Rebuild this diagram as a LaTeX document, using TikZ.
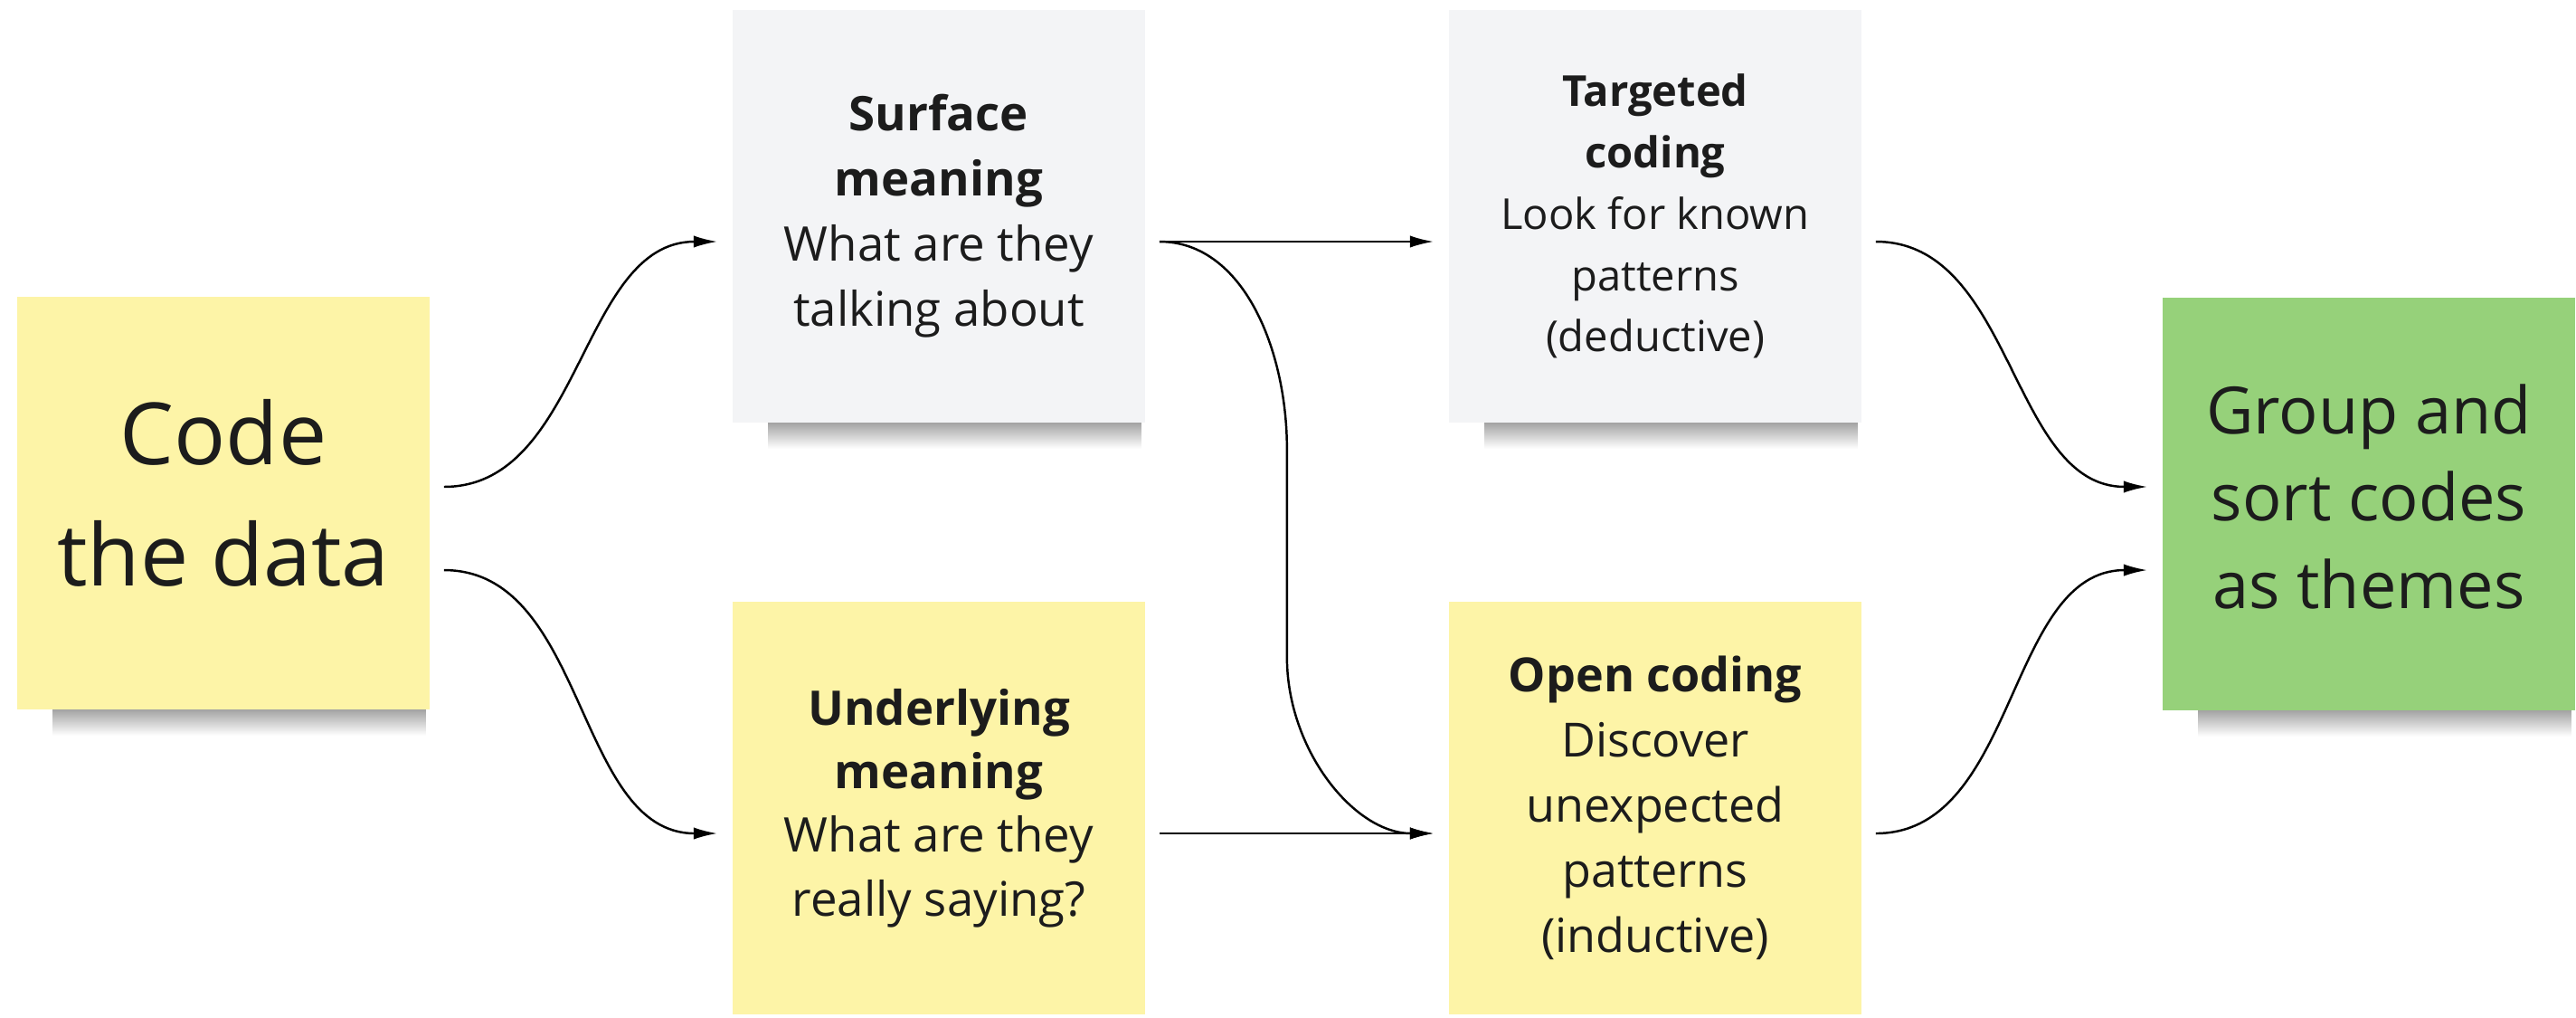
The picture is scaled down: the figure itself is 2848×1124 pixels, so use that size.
\documentclass[tikz,border=0pt]{standalone}
\usepackage{fontspec}
\setmainfont{Open Sans}
\usetikzlibrary{arrows.meta}

\definecolor{paleyellow}{HTML}{FDF4A7}
\definecolor{palegray}{HTML}{F3F4F6}
\definecolor{leafgreen}{HTML}{96D17A}
\definecolor{ink}{HTML}{1C1C1C}

\tikzstyle{sticky}=[minimum size=4.56cm, inner sep=0pt, align=center, text=ink]
\tikzstyle{flow}=[-{Latex[length=7.5pt,width=3.8pt]}, line width=0.7pt, shorten <=0.15cm, shorten >=0.16cm]

\begin{document}
\begin{tikzpicture}[x=0.01cm, y=-0.01cm]
  \useasboundingbox[fill=white] (0,0) rectangle (2848,1124);

  % sticky notes
  \node[sticky, fill=paleyellow, font=\fontsize{27}{38}\selectfont] (code) at (247,556) {Code\\the data\vphantom{g}};
  \node[sticky, fill=palegray, font=\fontsize{15}{20.5}\selectfont] (surf) at (1038,239)
    {\textbf{Surface}\\\textbf{meaning}\\What are they\\talking about};
  \node[sticky, fill=palegray, font=\fontsize{13.4}{19.3}\selectfont] (targ) at (1830,239)
    {\textbf{Targeted}\\\textbf{coding}\\Look for known\\patterns\\(deductive)};
  \node[sticky, fill=paleyellow, font=\fontsize{15}{20}\selectfont] (under) at (1038,893)
    {\textbf{Underlying}\\\textbf{meaning}\\What are they\\really saying?};
  \node[sticky, fill=paleyellow, font=\fontsize{14.8}{20.5}\selectfont] (open) at (1830,893)
    {\textbf{Open coding}\\Discover\\unexpected\\patterns\\(inductive)};
  \node[sticky, fill=leafgreen, font=\fontsize{20.5}{27.5}\selectfont] (group) at (2619,557) {Group and\\sort codes\\as themes\vphantom{g}};

  \foreach \n in {code, surf, targ, group} {%
    \shade[top color=black!35, bottom color=white] ([xshift=0.4cm]\n.south west) rectangle ([xshift=-0.05cm, yshift=-0.28cm]\n.south east);
  }

  % connectors
  \draw[flow] ([yshift=0.18cm]code.east) to[out=0, in=180] ([yshift=-0.28cm]surf.west);
  \draw[flow] ([yshift=-0.74cm]code.east) to[out=0, in=180] ([yshift=-0.28cm]under.west);
  \draw[flow] ([yshift=-0.28cm]surf.east) -- ([yshift=-0.28cm]targ.west);
  \draw[flow] ([yshift=-0.28cm]surf.east) to[out=0, in=90] ++(156,229) -- ++(0,230) to[out=-90, in=180] ([yshift=-0.28cm]open.west);
  \draw[flow] ([yshift=-0.28cm]under.east) -- ([yshift=-0.28cm]open.west);
  \draw[flow] ([yshift=-0.28cm]targ.east) to[out=0, in=180] ([yshift=0.19cm]group.west);
  \draw[flow] ([yshift=-0.28cm]open.east) to[out=0, in=180] ([yshift=-0.73cm]group.west);
\end{tikzpicture}
\end{document}
